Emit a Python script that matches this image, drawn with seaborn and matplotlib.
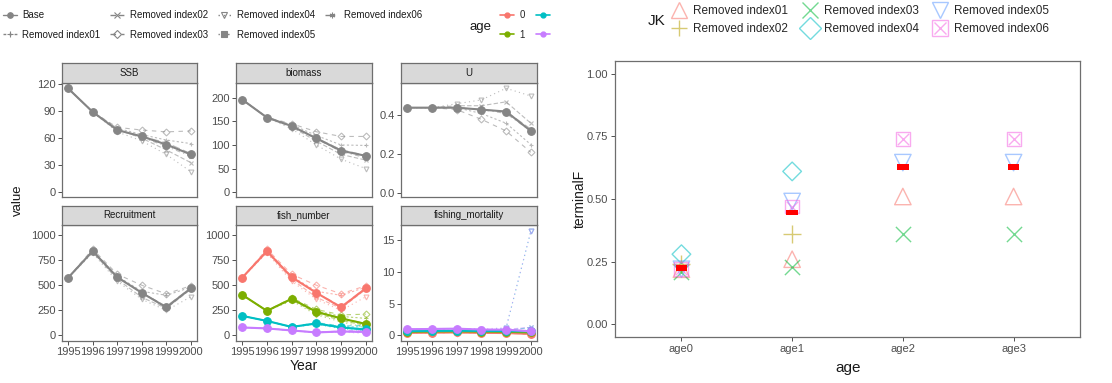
import matplotlib
matplotlib.use("Agg")
import matplotlib.pyplot as plt
from matplotlib.lines import Line2D
from matplotlib.patches import Rectangle
import pandas as pd
import seaborn as sns

# ---- data ----
years = [1995, 1996, 1997, 1998, 1999, 2000]
runs = ["Base", "Removed index01", "Removed index02", "Removed index03",
        "Removed index04", "Removed index05", "Removed index06"]
age_labels = ["age0", "age1", "age2", "age3"]

ssb = {
    "Base": [115, 89, 69, 62, 53, 42],
    "Removed index01": [115, 89, 71, 64, 58, 54],
    "Removed index02": [115, 89, 70, 60, 47, 33],
    "Removed index03": [115, 89, 72, 69, 67, 68],
    "Removed index04": [115, 89, 67, 57, 42, 23],
    "Removed index05": [115, 89, 69, 61, 51, 40],
    "Removed index06": [115, 89, 69, 62, 55, 43],
}
biomass = {
    "Base": [196, 158, 140, 114, 88, 77],
    "Removed index01": [196, 158, 143, 120, 100, 99],
    "Removed index02": [196, 158, 138, 108, 80, 68],
    "Removed index03": [196, 158, 145, 128, 118, 118],
    "Removed index04": [196, 158, 134, 100, 70, 50],
    "Removed index05": [196, 158, 140, 113, 86, 73],
    "Removed index06": [196, 158, 141, 115, 90, 78],
}
u_rate = {
    "Base": [0.44, 0.44, 0.44, 0.43, 0.42, 0.32],
    "Removed index01": [0.44, 0.44, 0.44, 0.41, 0.36, 0.25],
    "Removed index02": [0.44, 0.44, 0.45, 0.45, 0.47, 0.36],
    "Removed index03": [0.44, 0.44, 0.43, 0.38, 0.32, 0.21],
    "Removed index04": [0.44, 0.44, 0.46, 0.48, 0.54, 0.50],
    "Removed index05": [0.44, 0.44, 0.44, 0.43, 0.41, 0.32],
    "Removed index06": [0.44, 0.44, 0.44, 0.43, 0.42, 0.33],
}
recruitment = {
    "Base": [575, 840, 580, 425, 280, 470],
    "Removed index01": [575, 845, 590, 440, 400, 480],
    "Removed index02": [575, 830, 560, 380, 270, 460],
    "Removed index03": [575, 860, 610, 500, 415, 495],
    "Removed index04": [575, 820, 540, 360, 250, 385],
    "Removed index05": [575, 845, 585, 430, 285, 465],
    "Removed index06": [575, 840, 580, 425, 290, 475],
}
# fish numbers at age 1-3 (age 0 is the recruitment)
fn_age1 = {
    "Base": [405, 245, 365, 235, 170, 115],
    "Removed index01": [405, 245, 368, 245, 190, 170],
    "Removed index02": [405, 245, 355, 220, 150, 100],
    "Removed index03": [405, 245, 375, 260, 205, 212],
    "Removed index04": [405, 245, 345, 205, 135, 80],
    "Removed index05": [405, 245, 363, 235, 172, 112],
    "Removed index06": [405, 245, 366, 238, 175, 118],
}
fn_age2 = {
    "Base": [195, 145, 85, 120, 80, 60],
    "Removed index01": [195, 145, 86, 122, 88, 85],
    "Removed index02": [195, 145, 84, 115, 75, 55],
    "Removed index03": [195, 145, 88, 128, 95, 100],
    "Removed index04": [195, 145, 82, 110, 68, 45],
    "Removed index05": [195, 145, 85, 120, 80, 60],
    "Removed index06": [195, 145, 85, 121, 82, 62],
}
fn_age3 = {
    "Base": [80, 70, 50, 30, 40, 35],
    "Removed index01": [80, 70, 50, 31, 42, 45],
    "Removed index02": [80, 70, 50, 29, 38, 30],
    "Removed index03": [80, 70, 51, 33, 45, 55],
    "Removed index04": [80, 70, 49, 28, 35, 20],
    "Removed index05": [80, 70, 50, 30, 40, 34],
    "Removed index06": [80, 70, 50, 30, 41, 36],
}
f_age0 = {
    "Base": [0.40, 0.42, 0.45, 0.40, 0.35, 0.224],
    "Removed index01": [0.40, 0.42, 0.44, 0.38, 0.33, 0.22],
    "Removed index02": [0.40, 0.42, 0.46, 0.42, 0.38, 0.24],
    "Removed index03": [0.40, 0.42, 0.43, 0.36, 0.30, 0.21],
    "Removed index04": [0.40, 0.42, 0.47, 0.45, 0.42, 0.28],
    "Removed index05": [0.40, 0.42, 0.45, 0.40, 0.35, 0.22],
    "Removed index06": [0.40, 0.42, 0.45, 0.40, 0.36, 0.22],
}
f_age1 = {
    "Base": [0.55, 0.60, 0.62, 0.58, 0.55, 0.446],
    "Removed index01": [0.55, 0.60, 0.61, 0.55, 0.50, 0.26],
    "Removed index02": [0.55, 0.60, 0.63, 0.60, 0.58, 0.36],
    "Removed index03": [0.55, 0.60, 0.60, 0.52, 0.45, 0.23],
    "Removed index04": [0.55, 0.60, 0.64, 0.64, 0.65, 0.61],
    "Removed index05": [0.55, 0.60, 0.62, 0.58, 0.56, 0.49],
    "Removed index06": [0.55, 0.60, 0.62, 0.58, 0.56, 0.47],
}
f_age2 = {
    "Base": [0.65, 0.68, 0.72, 0.68, 0.66, 0.626],
    "Removed index01": [0.65, 0.68, 0.71, 0.65, 0.60, 0.51],
    "Removed index02": [0.65, 0.68, 0.73, 0.70, 0.72, 1.25],
    "Removed index03": [0.65, 0.68, 0.70, 0.62, 0.55, 0.36],
    "Removed index04": [0.65, 0.68, 0.74, 0.75, 1.15, 16.4],
    "Removed index05": [0.65, 0.68, 0.72, 0.68, 0.67, 0.645],
    "Removed index06": [0.65, 0.68, 0.72, 0.69, 0.68, 0.74],
}
f_age3 = {
    "Base": [0.95, 1.00, 1.05, 0.90, 0.88, 0.626],
    "Removed index01": [0.95, 1.00, 1.04, 0.88, 0.80, 0.51],
    "Removed index02": [0.95, 1.00, 1.06, 0.93, 0.95, 1.25],
    "Removed index03": [0.95, 1.00, 1.03, 0.85, 0.75, 0.36],
    "Removed index04": [0.95, 1.00, 1.07, 0.98, 1.20, 16.4],
    "Removed index05": [0.95, 1.00, 1.05, 0.90, 0.89, 0.645],
    "Removed index06": [0.95, 1.00, 1.05, 0.91, 0.90, 0.74],
}
# terminal F by age for each run (age0..age3)
terminal_f = {
    "Base": [0.224, 0.446, 0.626, 0.626],
    "Removed index01": [0.22, 0.26, 0.51, 0.51],
    "Removed index02": [0.24, 0.36, 1.25, 1.25],
    "Removed index03": [0.21, 0.23, 0.36, 0.36],
    "Removed index04": [0.28, 0.61, 16.4, 16.4],
    "Removed index05": [0.22, 0.49, 0.645, 0.645],
    "Removed index06": [0.22, 0.47, 0.74, 0.74],
}

# ---- styles ----
sns.set_style("ticks")
plt.rcParams["font.family"] = ["Liberation Sans", "DejaVu Sans"]

W, H = 1112, 383
fig = plt.figure(figsize=(W / 100, H / 100), dpi=100)

grey = "#858585"
border = "#6e6e6e"
age_colors = ["#F8766D", "#7CAE00", "#00BFC4", "#C77CFF"]
run_markers = {"Base": "o", "Removed index01": "+", "Removed index02": "x",
               "Removed index03": "D", "Removed index04": "v",
               "Removed index05": "s", "Removed index06": (6, 2, 0)}
run_ls = {"Base": "-", "Removed index01": (0, (2, 2)), "Removed index02": (0, (4, 2)),
          "Removed index03": (0, (4, 4)), "Removed index04": (0, (1, 3)),
          "Removed index05": (0, (1, 3, 4, 3)), "Removed index06": (0, (7, 3))}
open_markers = ["Removed index03", "Removed index04"]


def fax(x0, y0, x1, y1):
    return fig.add_axes([x0 / W, 1 - y1 / H, (x1 - x0) / W, (y1 - y0) / H])


def draw_series(ax, vals, run, color):
    base = run == "Base"
    sns.lineplot(x=years, y=vals, ax=ax, color=color,
                 marker=run_markers[run], linestyle=run_ls[run],
                 linewidth=1.5 if base else 0.8,
                 markersize=5.5 if base else 3.5,
                 markeredgecolor=color,
                 markerfacecolor="none" if run in open_markers else color,
                 markeredgewidth=0.8, alpha=1.0 if base else 0.55)


def panel(ax, series_list, colors, name, ylim, yticks, ylabels, bottom_row):
    for run in runs[1:] + ["Base"]:
        for series, c in zip(series_list, colors):
            draw_series(ax, series[run], run, c)
    ax.set_xlim(1994.75, 2000.25)
    ax.set_ylim(*ylim)
    ax.set_yticks(yticks)
    ax.set_yticklabels(ylabels)
    ax.set_xticks(years)
    ax.set_xticklabels([str(y) for y in years])
    ax.set_xlabel("")
    ax.set_ylabel("")
    for s in ax.spines.values():
        s.set_visible(True)
        s.set_color(border)
        s.set_linewidth(0.9)
    ax.tick_params(length=3, width=0.6, color="#333333", labelcolor="#4d4d4d",
                   labelsize=8, pad=1.5)
    if not bottom_row:
        ax.tick_params(axis="x", bottom=False, labelbottom=False)
    # strip
    pos = ax.get_position()
    sh = (20 if not bottom_row else 19) / H
    sax = fig.add_axes([pos.x0, pos.y1, pos.width, sh])
    sax.set_facecolor("#d9d9d9")
    sax.set_xticks([])
    sax.set_yticks([])
    for s in sax.spines.values():
        s.set_visible(True)
        s.set_color(border)
        s.set_linewidth(0.9)
    sax.text(0.5, 0.5, name, ha="center", va="center", fontsize=7, color="#1a1a1a")


cols = [(62, 197), (236, 372), (401, 537)]
row1 = (83, 197)
row2 = (225, 341)

fish_number = [recruitment, fn_age1, fn_age2, fn_age3]
fishing_mortality = [f_age0, f_age1, f_age2, f_age3]

panel(fax(cols[0][0], row1[0], cols[0][1], row1[1]), [ssb], [grey], "SSB",
      (-5, 121), [0, 30, 60, 90, 120], ["0", "30", "60", "90", "120"], False)
panel(fax(cols[1][0], row1[0], cols[1][1], row1[1]), [biomass], [grey], "biomass",
      (-10, 231), [0, 50, 100, 150, 200], ["0", "50", "100", "150", "200"], False)
panel(fax(cols[2][0], row1[0], cols[2][1], row1[1]), [u_rate], [grey], "U",
      (-0.02, 0.567), [0, 0.2, 0.4], ["0.0", "0.2", "0.4"], False)
panel(fax(cols[0][0], row2[0], cols[0][1], row2[1]), [recruitment], [grey], "Recruitment",
      (-55, 1100), [0, 250, 500, 750, 1000], ["0", "250", "500", "750", "1000"], True)
panel(fax(cols[1][0], row2[0], cols[1][1], row2[1]), fish_number, age_colors, "fish_number",
      (-55, 1100), [0, 250, 500, 750, 1000], ["0", "250", "500", "750", "1000"], True)
panel(fax(cols[2][0], row2[0], cols[2][1], row2[1]), fishing_mortality, age_colors,
      "fishing_mortality", (-0.9, 17.4), [0, 5, 10, 15], ["0", "5", "10", "15"], True)

fig.text(18 / W, 1 - 200 / H, "value", rotation=90, ha="center", va="center",
         fontsize=9.5, color="#1a1a1a")
fig.text(304 / W, 1 - 366 / H, "Year", ha="center", va="center",
         fontsize=10, color="#1a1a1a")

# left legends
lh = []
for run in runs:
    lh.append(Line2D([], [], color=grey, marker=run_markers[run], linestyle=run_ls[run],
                     linewidth=1.0, markersize=4,
                     markerfacecolor="none" if run in open_markers else grey,
                     markeredgecolor=grey, markeredgewidth=0.8))
fig.legend(lh, runs, ncol=4, loc="upper left", bbox_to_anchor=(3 / W, 1 - 10 / H),
           frameon=False, fontsize=7, handlelength=1.4, handletextpad=0.6,
           columnspacing=1.0, labelspacing=1.0, borderpad=0, borderaxespad=0,
           labelcolor="#1a1a1a")
ah = [Line2D([], [], color=c, marker="o", linewidth=1.2, markersize=3.5) for c in age_colors]
fig.legend(ah, ["0", "1", "2", "3"], ncol=2, loc="upper left",
           bbox_to_anchor=(500 / W, 1 - 10 / H), frameon=False, fontsize=7,
           handlelength=1.4, handletextpad=0.6, columnspacing=1.2,
           labelspacing=1.0, borderpad=0, borderaxespad=0)
fig.text(481 / W, 1 - 27 / H, "age", ha="center", va="center", fontsize=9.5,
         color="#1a1a1a")
fig.add_artist(Rectangle((554 / W, 1 - 55 / H), 60 / W, 55 / H, transform=fig.transFigure,
                         facecolor="white", edgecolor="none", zorder=20))

# ---- terminal F plot ----
axr = fax(615, 61, 1080, 337)
jk_runs = runs[1:]
jk_colors = ["#F8766D", "#B79F00", "#00BA38", "#00BFC4", "#619CFF", "#F564E3"]
jk_markers = ["^", "+", "x", "D", "v", "s"]
jk_sizes = [140, 170, 120, 90, 140, 100]

rows = []
for run in runs:
    for a, v in zip(age_labels, terminal_f[run]):
        rows.append({"age": a, "terminalF": v, "JK": run})
tf = pd.DataFrame(rows)

for run, c, m, s in zip(jk_runs, jk_colors, jk_markers, jk_sizes):
    sub = tf[tf["JK"] == run]
    if m in ("+", "x"):
        sns.scatterplot(data=sub, x="age", y="terminalF", ax=axr, marker=m, s=s,
                        color=c, linewidth=1.0, alpha=0.55, legend=False)
    else:
        sns.scatterplot(data=sub, x="age", y="terminalF", ax=axr, marker=m, s=s,
                        color=c, facecolor="none", edgecolor=c, linewidth=1.0,
                        alpha=0.55, legend=False)
    if run == "Removed index06":
        sns.scatterplot(data=sub, x="age", y="terminalF", ax=axr, marker="x", s=65,
                        color=c, linewidth=1.0, alpha=0.55, legend=False)

rect = [(-1, -0.5), (1, -0.5), (1, 0.5), (-1, 0.5)]
sns.scatterplot(data=tf[tf["JK"] == "Base"], x="age", y="terminalF", ax=axr,
                marker=rect, s=70, color="#FF0000", edgecolor="none", legend=False)

axr.set_xlim(-0.6, 3.6)
axr.set_ylim(-0.05, 1.05)
axr.set_yticks([0, 0.25, 0.5, 0.75, 1.0])
axr.set_yticklabels(["0.00", "0.25", "0.50", "0.75", "1.00"])
axr.set_xlabel("")
axr.set_ylabel("")
for s in axr.spines.values():
    s.set_visible(True)
    s.set_color(border)
    s.set_linewidth(0.9)
axr.tick_params(length=3, width=0.6, color="#333333", labelcolor="#4d4d4d",
                labelsize=8, pad=2)
fig.text(580 / W, 1 - 199 / H, "terminalF", rotation=90, ha="center", va="center",
         fontsize=10, color="#1a1a1a")
fig.text(848 / W, 1 - 368 / H, "age", ha="center", va="center", fontsize=11,
         color="#1a1a1a")

jh = []
for run, c, m in zip(jk_runs, jk_colors, jk_markers):
    h = Line2D([], [], color=c, marker=m, linestyle="", markersize=11,
               markerfacecolor="none", markeredgecolor=c, markeredgewidth=1.0, alpha=0.55)
    if run == "Removed index06":
        h = (h, Line2D([], [], color=c, marker="x", linestyle="", markersize=8,
                       markeredgewidth=1.0, alpha=0.55))
    jh.append(h)
fig.legend(jh, jk_runs, ncol=3, loc="upper left", bbox_to_anchor=(672 / W, 1 - 5 / H),
           frameon=False, fontsize=8.5, handlelength=1.2, handletextpad=0.6,
           columnspacing=1.2, labelspacing=0.55, borderpad=0, borderaxespad=0)
fig.text(657 / W, 1 - 21 / H, "JK", ha="center", va="center", fontsize=11,
         color="#1a1a1a")

fig.savefig("out.png", dpi=100)
